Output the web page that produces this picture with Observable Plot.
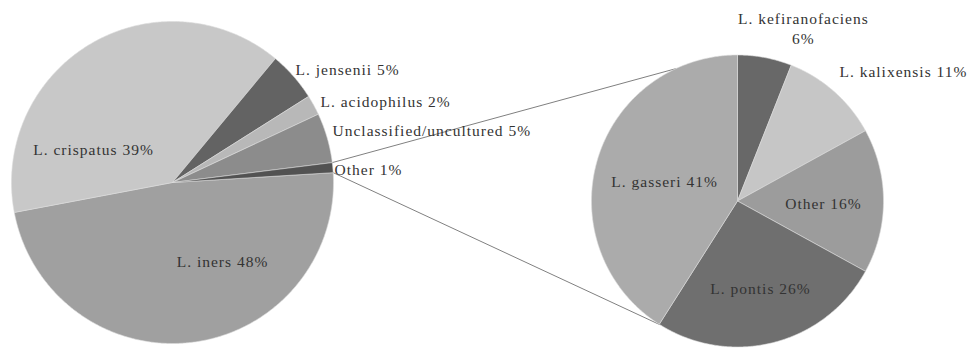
<!DOCTYPE html>
<html>
<head>
<meta charset="utf-8">
<script src="https://cdn.jsdelivr.net/npm/d3@7"></script>
<script src="https://cdn.jsdelivr.net/npm/@observablehq/plot@0.6"></script>
<style>
  body { margin: 0; background: #fff; }
</style>
</head>
<body>
<div id="chart"></div>
<script>
// Vaginal Lactobacillus composition, with the "Other" slice broken out
const mainSpecies = ["L. iners", "L. crispatus", "L. jensenii", "L. acidophilus", "Unclassified/uncultured", "Other"];
const mainShares = [48, 39, 5, 2, 5, 1];

const otherSpecies = ["L. kefiranofaciens", "L. kalixensis", "Other", "L. pontis", "L. gasseri"];
const otherShares = [6, 11, 16, 26, 41];

// Greys for each slice
const mainColors = ["#a0a0a0", "#c8c8c8", "#636363", "#b8b8b8", "#8c8c8c", "#525252"];
const otherColors = ["#686868", "#c6c6c6", "#9c9c9c", "#6f6f6f", "#ababab"];

// Pie geometry (centre, radius, start angle in degrees clockwise from 12 o'clock)
const mainPie = {cx: 172, cy: 182, r: 161, start: 86.5};
const detailPie = {cx: 737, cy: 200.5, r: 146, start: 0};

// Label placement: [angle in degrees, radius as a fraction of the pie radius, text anchor, wrap]
const mainLabelLayout = [
  [147.3, 0.575, "middle", false],
  [293.3, 0.534, "middle", false],
  [47.2, 1.042, "start", false],
  [61.0, 1.051, "start", false],
  [71.7, 1.047, "start", false],
  [85.1, 1.01, "start", false]
];
const otherLabelLayout = [
  [20.8, 1.271, "middle", true],
  [51.8, 1.446, "middle", false],
  [91.0, 0.589, "middle", false],
  [165.1, 0.613, "middle", false],
  [285.7, 0.519, "middle", false]
];
// Where the connector lines meet the detail pie (degrees)
const connectorAngles = [335, 212];

const rad = d => d * Math.PI / 180;
const polar = (pie, angle, radius) => [pie.cx + radius * Math.sin(angle), pie.cy - radius * Math.cos(angle)];

function slices(pie, names, shares, colors, layout, id) {
  const arcs = d3.pie().sort(null).value(d => d)
    .startAngle(rad(pie.start)).endAngle(rad(pie.start) + 2 * Math.PI)(shares);
  return arcs.map((a, i) => ({
    key: id + i, name: names[i], share: shares[i], color: colors[i],
    a0: a.startAngle, a1: a.endAngle, pie, layout: layout[i]
  }));
}

function outline(s) {
  const pts = [{key: s.key, color: s.color, x: s.pie.cx, y: s.pie.cy}];
  const n = Math.max(2, Math.ceil((s.a1 - s.a0) / rad(0.5)));
  for (let k = 0; k <= n; ++k) {
    const a = s.a0 + (s.a1 - s.a0) * k / n;
    const [x, y] = polar(s.pie, a, s.pie.r);
    pts.push({key: s.key, color: s.color, x, y});
  }
  pts.push({key: s.key, color: s.color, x: s.pie.cx, y: s.pie.cy});
  return pts;
}

function label(s) {
  const [angle, frac, anchor, wrap] = s.layout;
  const [x, y] = polar(s.pie, rad(angle), frac * s.pie.r);
  return {x, y, anchor, text: s.name + (wrap ? "\n" : " ") + s.share + "%"};
}

const mainSlices = slices(mainPie, mainSpecies, mainShares, mainColors, mainLabelLayout, "m");
const otherSlices = slices(detailPie, otherSpecies, otherShares, otherColors, otherLabelLayout, "o");
const allSlices = [...mainSlices, ...otherSlices];
const points = allSlices.flatMap(outline);
const labels = allSlices.map(label);

// Connectors from the edges of the main "Other" slice to the detail pie
const split = mainSlices[mainSlices.length - 1];
const links = [split.a0, split.a1].map((a, i) => {
  const [x1, y1] = polar(mainPie, a, mainPie.r);
  const [x2, y2] = polar(detailPie, rad(connectorAngles[i]), detailPie.r);
  return {x1, y1, x2, y2};
});

const textOpts = {
  x: "x", y: "y", text: "text",
  fill: "#333", fontSize: 15.5, lineHeight: 1.3,
  fontFamily: "Liberation Serif, Times New Roman, serif"
};

const chart = Plot.plot({
  width: 980,
  height: 350,
  margin: 0,
  x: {domain: [0, 980], range: [0, 980], axis: null},
  y: {domain: [0, 350], range: [0, 350], axis: null},
  color: {type: "identity"},
  style: {background: "#fff", letterSpacing: "1px"},
  marks: [
    Plot.link(links, {x1: "x1", y1: "y1", x2: "x2", y2: "y2", stroke: "#808080", strokeWidth: 1}),
    Plot.line(points, {x: "x", y: "y", z: "key", fill: "color", stroke: "#dcdcdc", strokeWidth: 0.6, curve: "linear"}),
    Plot.text(labels.filter(d => d.anchor === "middle"), {...textOpts, textAnchor: "middle"}),
    Plot.text(labels.filter(d => d.anchor === "start"), {...textOpts, textAnchor: "start"})
  ]
});

document.getElementById("chart").append(chart);
</script>
</body>
</html>
